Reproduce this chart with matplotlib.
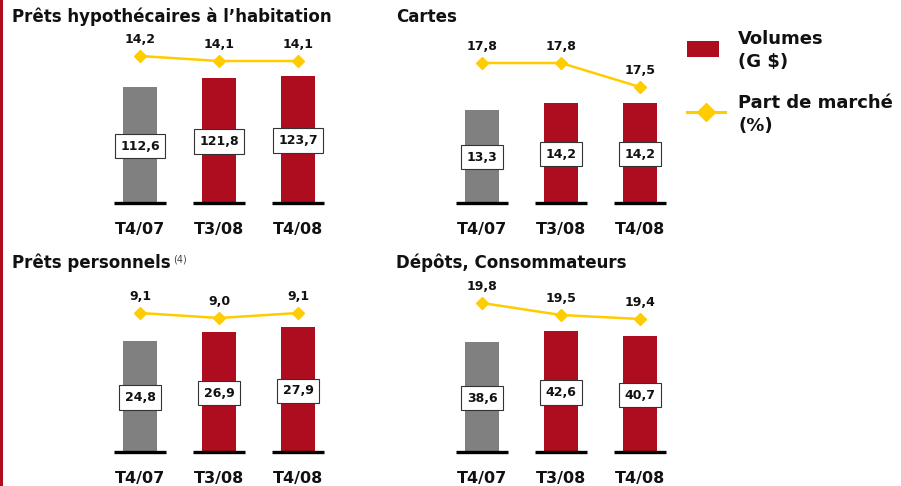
import matplotlib
matplotlib.use("Agg")
import matplotlib.pyplot as plt
from matplotlib.patches import Rectangle
from matplotlib.lines import Line2D

# data
quarters = ["T4/07", "T3/08", "T4/08"]
titles = ["Prêts hypothécaires à l’habitation", "Cartes",
          "Prêts personnels", "Dépôts, Consommateurs"]
footnotes = ["", "", "(4)", ""]
volumes = [
    [112.6, 121.8, 123.7],
    [13.3, 14.2, 14.2],
    [24.8, 26.9, 27.9],
    [38.6, 42.6, 40.7],
]
part_marche = [
    [14.2, 14.1, 14.1],
    [17.8, 17.8, 17.5],
    [9.1, 9.0, 9.1],
    [19.8, 19.5, 19.4],
]

RED = "#ae0c1f"
GREY = "#808080"
YELLOW = "#ffcc00"
W, H = 901, 486

# layout in pixels: (left of axes, baseline y, top y, bar px/unit, line px/unit, line ref value, line ref y)
layout = [
    (100.5, 203, 25, 1.03, 50, 14.2, 56),
    (442.5, 203, 25, 7.02, 80, 17.8, 63),
    (100.5, 452, 275, 4.475, 50, 9.1, 313),
    (442.5, 452, 275, 2.85, 40, 19.8, 303),
]
title_pos = [(12, 17), (396, 17), (12, 263), (396, 263)]

fig = plt.figure(figsize=(W / 100, H / 100), dpi=100)
plt.rcParams['font.family'] = ['DejaVu Sans']

fig.add_artist(Rectangle((0, 0), 2.5 / W, 1, transform=fig.transFigure,
                         color=RED, lw=0))

x = [0, 1, 2]
for i in range(4):
    left, yb, yt, ppu, lppu, v0, y0 = layout[i]
    hpx = yb - yt
    ax = fig.add_axes([left / W, (H - yb) / H, 237 / W, hpx / H])
    ax.set_xlim(-0.5, 2.5)
    ax.set_ylim(0, hpx / ppu)
    cols = [GREY, RED, RED]
    ax.bar(x, volumes[i], width=34 / 79, color=cols, zorder=2)
    ax.hlines([0] * 3, [k - 0.323 for k in x], [k + 0.323 for k in x],
              color="black", lw=2.4, zorder=3, clip_on=False)
    for k in x:
        ax.text(k, volumes[i][k] * 0.49, f"{volumes[i][k]:.1f}".replace(".", ","),
                ha="center", va="center", fontsize=9, fontweight="bold",
                color="#111111", zorder=4,
                bbox=dict(boxstyle="square,pad=0.45", fc="white", ec="#333333", lw=0.8))
    ax.set_xticks(x)
    ax.set_xticklabels(quarters, fontsize=11.5, fontweight="bold", color="#111111")
    ax.tick_params(axis="x", length=0, pad=14)
    ax.set_yticks([])
    for s in ax.spines.values():
        s.set_visible(False)
    ax.patch.set_alpha(0)

    ax2 = ax.twinx()
    ax2.set_ylim(v0 - (yb - y0) / lppu, v0 + (y0 - yt) / lppu)
    ax2.plot(x, part_marche[i], color=YELLOW, lw=1.8, marker="D", ms=6.5,
             markeredgecolor=YELLOW, zorder=5)
    for k in x:
        ax2.annotate(f"{part_marche[i][k]:.1f}".replace(".", ","),
                     (k, part_marche[i][k]), xytext=(0, 12), textcoords="offset points",
                     ha="center", va="center", fontsize=9, fontweight="bold",
                     color="#111111")
    ax2.set_yticks([])
    for s in ax2.spines.values():
        s.set_visible(False)

    tx, ty = title_pos[i]
    t = fig.text(tx / W, 1 - ty / H, titles[i], fontsize=12, fontweight="bold",
                 color="#111111", ha="left", va="center")
    if footnotes[i]:
        r = fig.canvas.get_renderer()
        bb = t.get_window_extent(renderer=r)
        fig.text(bb.x1 / W + 2 / W, 1 - (ty - 4) / H, footnotes[i], fontsize=7,
                 color="#444444", ha="left", va="center")

# legend
fig.add_artist(Rectangle((687 / W, 1 - 57 / H), 32 / W, 16 / H,
                         transform=fig.transFigure, color=RED, lw=0))
fig.add_artist(Line2D([687 / W, 725 / W], [1 - 112 / H, 1 - 112 / H],
                      transform=fig.transFigure, color=YELLOW, lw=2.2))
fig.add_artist(Line2D([706 / W], [1 - 112 / H], transform=fig.transFigure,
                      color=YELLOW, marker="D", ms=9, lw=0))
for txt, yy in [("Volumes", 39), ("(G $)", 62), ("Part de marché", 103), ("(%)", 126)]:
    fig.text(738 / W, 1 - yy / H, txt, fontsize=13, fontweight="bold",
             color="#111111", ha="left", va="center")

fig.savefig("out.png", dpi=100)
